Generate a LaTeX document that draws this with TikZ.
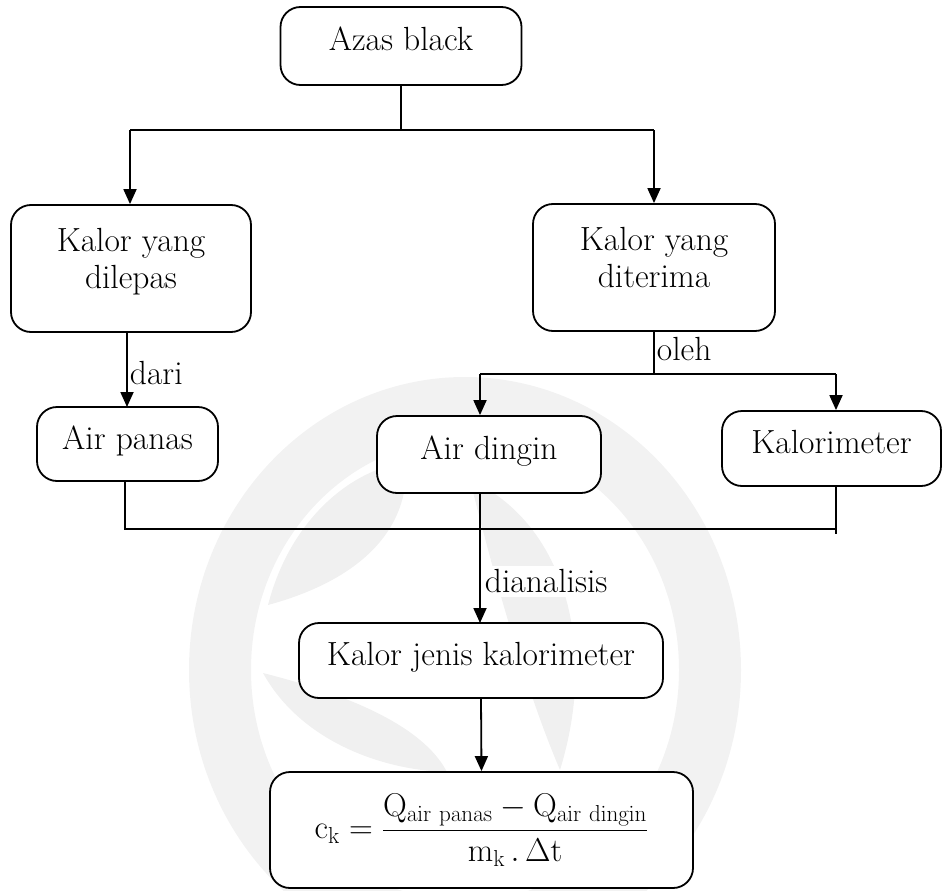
\RequirePackage{fix-cm}
\documentclass[tikz,border=0pt]{standalone}
\usetikzlibrary{arrows.meta,calc}
\begin{document}
\begin{tikzpicture}[x=1pt,y=-1pt,
  every node/.style={font=\fontsize{33.5}{37}\selectfont},
  box/.style={draw,line width=1.8pt,rounded corners=20pt,fill=white,align=center,inner sep=0pt},
  wire/.style={line width=1.8pt},
  arr/.style={line width=1.8pt,-{Triangle[length=15pt,width=13pt]}},
  lbl/.style={inner sep=2pt,anchor=west},
  wm/.style={draw=none,fill=black!6}]
\useasboundingbox (0,0) rectangle (945,891);
% faint watermark
\begin{scope}
\draw[line width=62pt,black!5] (465,670) ellipse [x radius=245, y radius=262];
\fill[wm] (268,605) .. controls (290,520) and (350,470) .. (406,462) .. controls (410,530) and (360,580) .. (268,605);
\fill[wm] (263,673) .. controls (330,690) and (420,720) .. (447,772) .. controls (380,770) and (300,740) .. (263,673);
\fill[wm] (470,480) .. controls (560,520) and (600,640) .. (560,770) .. controls (530,700) and (500,600) .. (470,480);
\end{scope}
% boxes
\node[box,minimum width=241pt,minimum height=78pt,text depth=14pt] (azas) at (401,46) {Azas black};
\node[box,minimum width=240pt,minimum height=127pt,text depth=20pt] (dilepas) at (131,268.5) {Kalor yang\\dilepas};
\node[box,minimum width=242pt,minimum height=127pt,text depth=20pt] (diterima) at (654,267.5) {Kalor yang\\diterima};
\node[box,minimum width=181pt,minimum height=74pt,text depth=13pt] (airpanas) at (127.5,444) {Air panas};
\node[box,minimum width=224pt,minimum height=77pt,text depth=13pt] (airdingin) at (489,454.5) {Air dingin};
\node[box,minimum width=219pt,minimum height=75pt,text depth=13pt] (kalori) at (831.5,448.5) {Kalorimeter};
\node[box,minimum width=364pt,minimum height=75pt,text depth=13pt] (jenis) at (481,660.5) {Kalor jenis kalorimeter};
\node[box,minimum width=423pt,minimum height=116pt,font=\fontsize{33}{37}\selectfont] (rumus) at (481.5,830)
  {$\displaystyle \mathrm{c_k}=\frac{\mathrm{Q_{air\,\,panas}}-\mathrm{Q_{air\,\,dingin}}}{\mathrm{m_k}\,.\,\Delta\mathrm{t}}$};
% junctions
\coordinate (j1) at (401,130);
\coordinate (jl) at (130,130);
\coordinate (jr) at (654,130);
\coordinate (j2) at (654,374);
\coordinate (jad) at (480,374);
\coordinate (jk) at (836,374);
\coordinate (b1) at (125,529);
\coordinate (b2) at (836,529);
\coordinate (b3) at (836,534);
% connectors
\draw[wire] (azas.south) -- (j1);
\draw[wire] (jl) -- (jr);
\draw[arr] (jl) -- (jl |- dilepas.north);
\draw[arr] (jr) -- (diterima.north);
\draw[arr] (127,332) -- node[lbl,pos=0.55]{dari} (127,407);
\draw[wire] (diterima.south) -- node[lbl,pos=0.4]{oleh} (j2);
\draw[wire] (jad) -- (jk);
\draw[arr] (jad) -- (jad |- airdingin.north);
\draw[arr] (jk) -- (jk |- kalori.north);
\draw[wire] (b1 |- airpanas.south) -- (b1) -- (b2);
\draw[wire] (b2 |- kalori.south) -- (b3);
\draw[arr] (480,493) -- node[lbl,pos=0.68,fill=white,inner sep=4pt]{dianalisis} (480,623);
\draw[arr] (jenis.south) -- (rumus.north);
\end{tikzpicture}
\end{document}
